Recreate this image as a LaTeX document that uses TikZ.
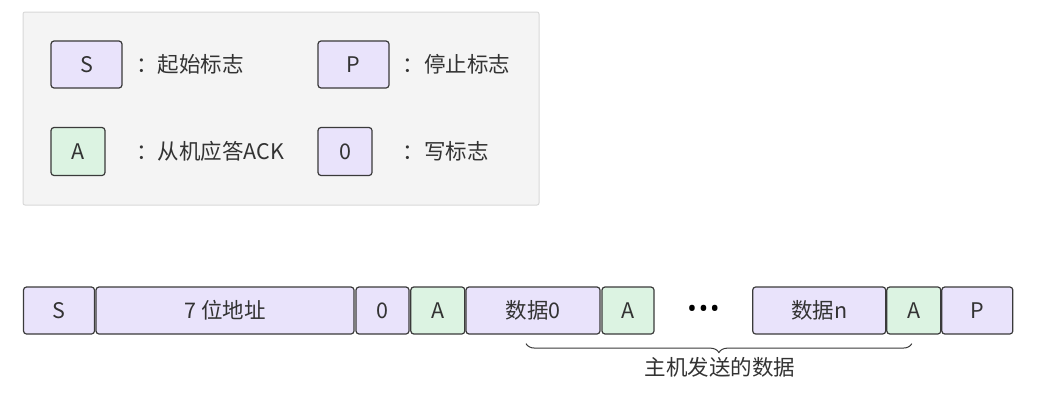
\documentclass[tikz,border=0pt]{standalone}
\usepackage{fontspec}
\setmainfont{Noto Sans CJK SC}
\newfontfamily\dotfont{Noto Sans}
\usetikzlibrary{decorations.pathreplacing}
\definecolor{bitflag}{RGB}{233,227,251}
\definecolor{bitack}{RGB}{220,243,226}
\definecolor{bitedge}{RGB}{58,58,58}
\definecolor{bittext}{RGB}{51,51,51}
\definecolor{legendbg}{RGB}{244,244,244}
\definecolor{legendedge}{RGB}{216,216,216}

\begin{document}
\begin{tikzpicture}[x=1pt, y=-1pt,
    bitbox/.style={draw=bitedge, line width=1.2pt, rounded corners=3pt,
        minimum height=47pt, inner sep=0pt, text=bittext,
        font=\fontsize{21.5}{25}\selectfont},
    flagbox/.style={bitbox, fill=bitflag},
    ackbox/.style={bitbox, fill=bitack},
    note/.style={anchor=west, inner sep=0pt, text=bittext,
        font=\fontsize{21.5}{25}\selectfont}]
    \useasboundingbox (0,0) rectangle (1057,415);

    % Legend
    \node (legend) [draw=legendedge, fill=legendbg, line width=1pt, rounded corners=2pt,
        minimum width=516pt, minimum height=193pt] at (281,108.5) {};
    \node (legS) [flagbox, minimum width=71pt] at (86.5,64.5) {S};
    \node (legP) [flagbox, minimum width=71pt] at (353.5,64.5) {P};
    \node (legA) [ackbox, minimum width=54pt, minimum height=48pt] at (78,151.5) {A};
    \node (leg0) [flagbox, minimum width=54pt, minimum height=48pt] at (345,151.5) {0};
    \node (noteS) [note] at (136,64.5) {：起始标志};
    \node (noteP) [note] at (402.5,64.5) {：停止标志};
    \node (noteA) [note] at (136,151.5) {：从机应答ACK};
    \node (note0) [note] at (402.5,151.5) {：写标志};

    % Frame
    \node (bS) [flagbox, minimum width=71pt] at (59,310.5) {S};
    \node (addr) [flagbox, minimum width=258pt] at (225,310.5) {7 位地址};
    \node (bW) [flagbox, minimum width=53pt] at (382.5,310.5) {0};
    \node (a1) [ackbox, minimum width=54pt] at (437.8,310.5) {A};
    \node (d0) [flagbox, minimum width=134pt] at (533,310.5) {数据0};
    \node (a2) [ackbox, minimum width=52pt] at (628,310.5) {A};
    \node (dots) [inner sep=0pt, text=black, font=\dotfont\fontsize{25}{28}\selectfont]
        at (703.5,311) {•\kern2pt•\kern2pt•};
    \node (dn) [flagbox, minimum width=133pt] at (819.2,310.5) {数据n};
    \node (a3) [ackbox, minimum width=54pt] at (913.8,310.5) {A};
    \node (bP) [flagbox, minimum width=71pt] at (977.3,310.5) {P};

    % Data sent by the host
    \draw[bitedge, line width=1pt, decorate, decoration={brace, amplitude=9pt, mirror}]
        ([xshift=-7pt, yshift=-9pt]d0.south) -- ([xshift=-2pt, yshift=-9pt]a3.south);
    \node (host) [note, anchor=center] at (720,367) {主机发送的数据};
\end{tikzpicture}
\end{document}
